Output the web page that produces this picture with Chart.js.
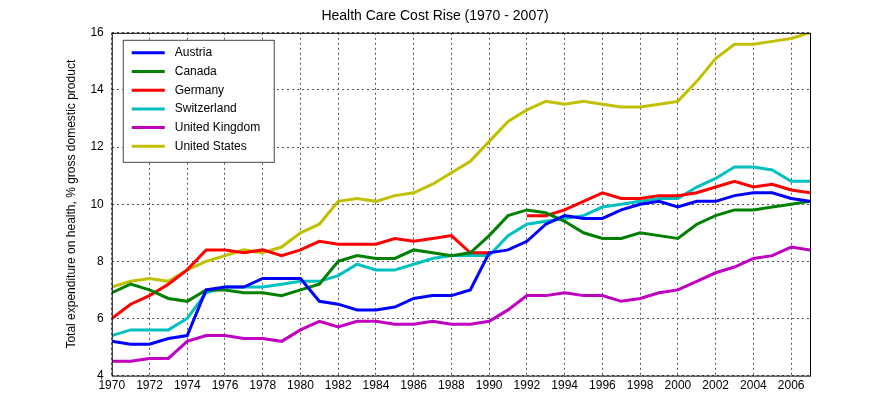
<!DOCTYPE html>
<html><head><meta charset="utf-8">
<script src="https://cdn.jsdelivr.net/npm/chart.js@4"></script>
<style>body{margin:0;background:#fff}#wrap{width:896px;height:420px}</style>
</head><body><div id="wrap"><canvas id="c"></canvas></div>
<script>
"use strict";
const years = [];
for (let y = 1970; y <= 2007; y++) years.push(y);
const names = ["Austria", "Canada", "Germany", "Switzerland", "United Kingdom", "United States"];
const colors = ["#0000ff", "#008000", "#ff0000", "#00c0c0", "#c000c0", "#c0c000"];
const austria = [5.2,5.1,5.1,5.3,5.4,7.0,7.1,7.1,7.4,7.4,7.4,6.6,6.5,6.3,6.3,6.4,6.7,6.8,6.8,7.0,8.3,8.4,8.7,9.3,9.6,9.5,9.5,9.8,10.0,10.1,9.9,10.1,10.1,10.3,10.4,10.4,10.2,10.1];
const canada = [6.9,7.2,7.0,6.7,6.6,7.0,7.0,6.9,6.9,6.8,7.0,7.2,8.0,8.2,8.1,8.1,8.4,8.3,8.2,8.3,8.9,9.6,9.8,9.7,9.4,9.0,8.8,8.8,9.0,8.9,8.8,9.3,9.6,9.8,9.8,9.9,10.0,10.1];
const germany = [6.0,6.5,6.8,7.2,7.7,8.4,8.4,8.3,8.4,8.2,8.4,8.7,8.6,8.6,8.6,8.8,8.7,8.8,8.9,8.3,8.3,null,9.6,9.6,9.8,10.1,10.4,10.2,10.2,10.3,10.3,10.4,10.6,10.8,10.6,10.7,10.5,10.4];
const switzerland = [5.4,5.6,5.6,5.6,6.0,6.9,7.1,7.1,7.1,7.2,7.3,7.3,7.5,7.9,7.7,7.7,7.9,8.1,8.2,8.2,8.2,8.9,9.3,9.4,9.5,9.6,9.9,10.0,10.1,10.2,10.2,10.6,10.9,11.3,11.3,11.2,10.8,10.8];
const uk = [4.5,4.5,4.6,4.6,5.2,5.4,5.4,5.3,5.3,5.2,5.6,5.9,5.7,5.9,5.9,5.8,5.8,5.9,5.8,5.8,5.9,6.3,6.8,6.8,6.9,6.8,6.8,6.6,6.7,6.9,7.0,7.3,7.6,7.8,8.1,8.2,8.5,8.4];
const us = [7.1,7.3,7.4,7.3,7.7,8.0,8.2,8.4,8.3,8.5,9.0,9.3,10.1,10.2,10.1,10.3,10.4,10.7,11.1,11.5,12.2,12.9,13.3,13.6,13.5,13.6,13.5,13.4,13.4,13.5,13.6,14.3,15.1,15.6,15.6,15.7,15.8,16.0];
const series = [austria, canada, germany, switzerland, uk, us];
const xTicks = [1970,1972,1974,1976,1978,1980,1982,1984,1986,1988,1990,1992,1994,1996,1998,2000,2002,2004,2006];

const font = "'Liberation Sans', Arial, sans-serif";
Chart.defaults.font.family = font;
Chart.defaults.color = "#000";

const boxLegend = {
  id: "boxLegend",
  afterDatasetsDraw(chart) {
    const ctx = chart.ctx, a = chart.chartArea;
    ctx.save();
    ctx.strokeStyle = "#000"; ctx.lineWidth = 1;
    ctx.strokeRect(a.left + 0.5, a.top + 0.5, a.right - a.left, a.bottom - a.top);
    ctx.fillStyle = "#fff";
    const x = a.left + 11, y = a.top + 7, w = 151, h = 122;
    ctx.fillRect(x, y, w, h);
    ctx.strokeStyle = "#444";
    ctx.strokeRect(x + 0.5, y + 0.5, w, h);
    ctx.font = "12px " + font;
    ctx.textBaseline = "middle";
    chart.data.datasets.forEach((d, i) => {
      const yy = y + 13 + i * 18.7;
      ctx.strokeStyle = d.borderColor; ctx.lineWidth = 3;
      ctx.beginPath(); ctx.moveTo(x + 9, yy); ctx.lineTo(x + 42, yy); ctx.stroke();
      ctx.fillStyle = "#000";
      ctx.fillText(d.label, x + 52, yy);
    });
    ctx.restore();
  }
};

new Chart(document.getElementById("c"), {
  type: "line",
  data: {
    labels: years,
    datasets: names.map((n, i) => ({
      label: n,
      data: series[i].map((v, j) => ({ x: years[j], y: v })),
      borderColor: colors[i],
      backgroundColor: colors[i],
      borderWidth: 3,
      pointRadius: 0,
      tension: 0,
      spanGaps: false
    }))
  },
  options: {
    responsive: true,
    maintainAspectRatio: false,
    animation: false,
    layout: { padding: { left: 60, right: 86, top: 0, bottom: 24 } },
    plugins: {
      legend: { display: false },
      tooltip: { enabled: false },
      title: { display: true, text: "Health Care Cost Rise (1970 - 2007)", font: { size: 14, weight: "normal" }, padding: { top: 8, bottom: 8 } }
    },
    scales: {
      x: {
        type: "linear", min: 1970, max: 2007,
        afterBuildTicks: s => { s.ticks = xTicks.map(v => ({ value: v })); },
        ticks: { font: { size: 12 }, callback: v => String(v), maxRotation: 0, autoSkip: false },
        grid: { color: "#555", drawTicks: false },
        border: { display: false, dash: [2, 3] }
      },
      y: {
        min: 4, max: 16,
        ticks: { stepSize: 2, font: { size: 12 }, padding: 8 },
        grid: { color: "#555", drawTicks: false },
        border: { display: false, dash: [2, 3] },
        title: { display: true, text: "Total expenditure on health, % gross domestic product", font: { size: 12 } }
      }
    }
  },
  plugins: [boxLegend]
});
</script></body></html>
